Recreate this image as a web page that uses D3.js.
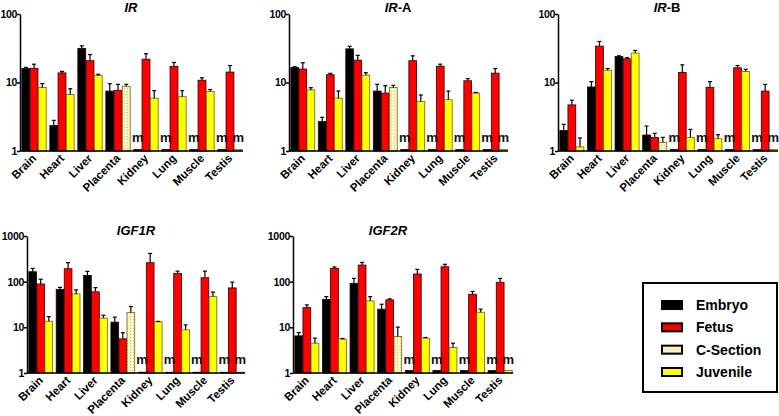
<!DOCTYPE html>
<html><head><meta charset="utf-8">
<script src="https://cdn.jsdelivr.net/npm/d3@7"></script>
<style>
body{margin:0;background:#fff;}
svg{display:block;font-family:"Liberation Sans",Arial,sans-serif;}
</style></head>
<body><svg id="chart" width="779" height="416"></svg>
<script>
// ---------------- DATA ----------------
const categories = ["Brain","Heart","Liver","Placenta","Kidney","Lung","Muscle","Testis"];
const seriesNames = ["Embryo","Fetus","C-Section","Juvenile"];
const panelTitles = ["IR","IR-A","IR-B","IGF1R","IGF2R"];
const missingLabel = "m";
// null = not measured ("m"); drawn as a stub at the panel's missing level
const missingLevel = [1.05, 1.05, 1.05, 1.04, 1.14];

const irEmbryo      = [16, 2.35, 31.5, 7.5, null, null, null, null];
const irEmbryoErr   = [0.6, 0.45, 2.8, 2.1, 0, 0, 0, 0];
const irFetus       = [16, 13.8, 20.8, 7.7, 21.9, 17.1, 10.8, 14.2];
const irFetusErr    = [2.5, 0.7, 4.8, 1.7, 4.4, 2.5, 0.9, 3.5];
const irThird       = [8.45, 6.7, 12.7, 8.8, 5.9, 6.2, 7.4, null];
const irThirdErr    = [1.2, 1.4, 0.5, 0.6, 1.7, 1.4, 0.5, 0];

const iraEmbryo     = [16.6, 2.7, 31, 7.5, null, null, null, null];
const iraEmbryoErr  = [0.4, 0.4, 2.8, 1.9, 0, 0, 0, 0];
const iraFetus      = [15.7, 13, 21.2, 7.0, 20.8, 17.3, 10.6, 13.7];
const iraFetusErr   = [3.7, 0.6, 3.7, 2.0, 3.7, 1.2, 0.8, 2.3];
const iraThird      = [7.8, 5.9, 12.8, 8.45, 5.27, 5.6, 7.0, null];
const iraThirdErr   = [0.6, 1.6, 1.1, 0.65, 1.3, 1.9, 0.15, 0];

const irbEmbryo     = [2.0, 8.6, 24, 1.71, null, null, null, null];
const irbEmbryoErr  = [0.45, 1.7, 0.5, 0.6, 0, 0, 0, 0];
const irbFetus      = [4.71, 34, 22.2, 1.58, 14, 8.5, 16.4, 7.5];
const irbFetusErr   = [0.8, 5.7, 0.8, 0.23, 4.1, 1.8, 1.3, 1.9];
const irbThird      = [1.15, 15.1, 26.9, 1.34, 1.58, 1.51, 14.5, null];
const irbThirdErr   = [0.4, 0.9, 2.5, 0.24, 0.49, 0.22, 1.1, 0];

const igf1rEmbryo    = [165, 68, 137, 13, null, null, null, null];
const igf1rEmbryoErr = [30, 7, 31, 3.7, 0, 0, 0, 0];
const igf1rFetus     = [89, 192, 60, 5.6, 260, 152, 122, 73];
const igf1rFetusErr  = [24, 68, 14, 2, 155, 18, 48, 25];
const igf1rThird     = [13.6, 54, 15.9, 21, 13.2, 8.8, 47, null];
const igf1rThirdErr  = [3.6, 12, 2.5, 7.5, 0.3, 2.5, 12, 0];

const igf2rEmbryo    = [6.5, 41, 92, 25, null, null, null, null];
const igf2rEmbryoErr = [1.2, 6, 26, 7, 0, 0, 0, 0];
const igf2rFetus     = [27, 196, 231, 40, 147, 212, 53, 97];
const igf2rFetusErr  = [4, 14, 33, 2, 39, 28, 8, 21];
const igf2rThird     = [4.5, 5.5, 38, 6.3, 5.8, 3.6, 21.4, null];
const igf2rThirdErr  = [1.3, 0.2, 9, 3.8, 0.2, 0.9, 3.6, 0];

const yTicksSmall = [1, 10, 100];
const yTicksLarge = [1, 10, 100, 1000];

// ---------------- LAYOUT / STYLE ----------------
const colors = {"Embryo":"#000000","Fetus":"#ff0000","C-Section":"url(#dots)","Juvenile":"#ffff00"};
const panels = [
  {title:panelTitles[0], em:irEmbryo, emE:irEmbryoErr, fe:irFetus, feE:irFetusErr, th:irThird, thE:irThirdErr, x0:20, x1:243, yTop:14, yBot:151, domain:[1,100], ticks:yTicksSmall, tx:131, ty:12},
  {title:panelTitles[1], em:iraEmbryo, emE:iraEmbryoErr, fe:iraFetus, feE:iraFetusErr, th:iraThird, thE:iraThirdErr, x0:289, x1:508, yTop:14, yBot:151, domain:[1,100], ticks:yTicksSmall, tx:398, ty:12},
  {title:panelTitles[2], em:irbEmbryo, emE:irbEmbryoErr, fe:irbFetus, feE:irbFetusErr, th:irbThird, thE:irbThirdErr, x0:558, x1:778, yTop:14, yBot:151, domain:[1,100], ticks:yTicksSmall, tx:667, ty:12},
  {title:panelTitles[3], em:igf1rEmbryo, emE:igf1rEmbryoErr, fe:igf1rFetus, feE:igf1rFetusErr, th:igf1rThird, thE:igf1rThirdErr, x0:27, x1:245, yTop:236, yBot:373, domain:[1,1000], ticks:yTicksLarge, tx:136, ty:235},
  {title:panelTitles[4], em:igf2rEmbryo, emE:igf2rEmbryoErr, fe:igf2rFetus, feE:igf2rFetusErr, th:igf2rThird, thE:igf2rThirdErr, x0:293, x1:513, yTop:236, yBot:373, domain:[1,1000], ticks:yTicksLarge, tx:388, ty:235}
];

const svg = d3.select("#chart");
const defs = svg.append("defs");
const pat = defs.append("pattern").attr("id","dots").attr("patternUnits","userSpaceOnUse")
  .attr("width",3).attr("height",3);
pat.append("rect").attr("width",3).attr("height",3).attr("fill","#fdf6c3");
pat.append("rect").attr("x",1).attr("y",1).attr("width",1).attr("height",1).attr("fill","#cfc58a");

panels.forEach((p, pi) => {
  const g = svg.append("g");
  const y = d3.scaleLog().domain(p.domain).range([p.yBot, p.yTop]);
  const x = d3.scaleBand().domain(categories).range([p.x0 + 1, p.x1]).paddingInner(0.13).paddingOuter(0.03);
  const xs = d3.scaleBand().domain([0,1,2]).range([0, x.bandwidth()]).paddingInner(0.04);

  const rows = [];
  categories.forEach((c, i) => {
    const third = c === "Placenta" ? "C-Section" : "Juvenile";
    [[p.em, p.emE, "Embryo"], [p.fe, p.feE, "Fetus"], [p.th, p.thE, third]].forEach((s, k) => {
      const v = s[0][i];
      rows.push({cat:c, k, series:s[2], value: v === null ? missingLevel[pi] : v, err: v === null ? 0 : s[1][i], missing: v === null});
    });
  });

  // bars
  g.selectAll("rect.bar").data(rows).join("rect").attr("class","bar")
    .attr("x", d => x(d.cat) + xs(d.k))
    .attr("width", xs.bandwidth())
    .attr("y", d => y(d.value))
    .attr("height", d => Math.max(0, p.yBot - y(d.value)))
    .attr("fill", d => colors[d.series])
    .attr("stroke", d => d.series === "Juvenile" || d.series === "C-Section" ? "#6b6418" : "#2a0000")
    .attr("stroke-width", 0.8);

  // error bars (upper only)
  const eb = rows.filter(d => !d.missing && d.err > 0);
  const ebg = g.selectAll("g.err").data(eb).join("g").attr("class","err");
  ebg.append("line")
    .attr("x1", d => x(d.cat) + xs(d.k) + xs.bandwidth()/2)
    .attr("x2", d => x(d.cat) + xs(d.k) + xs.bandwidth()/2)
    .attr("y1", d => y(d.value)).attr("y2", d => y(d.value + d.err))
    .attr("stroke","#000").attr("stroke-width",1.2);
  ebg.append("line")
    .attr("x1", d => x(d.cat) + xs(d.k) + xs.bandwidth()/2 - 2)
    .attr("x2", d => x(d.cat) + xs(d.k) + xs.bandwidth()/2 + 2)
    .attr("y1", d => y(d.value + d.err)).attr("y2", d => y(d.value + d.err))
    .attr("stroke","#000").attr("stroke-width",1.2);

  // "m" labels
  g.selectAll("text.m").data(rows.filter(d => d.missing)).join("text").attr("class","m")
    .attr("x", d => x(d.cat) + xs(d.k) + xs.bandwidth()/2)
    .attr("y", p.yBot - 9)
    .attr("text-anchor","middle")
    .attr("font-size", 13).attr("font-weight","bold").attr("fill","#111")
    .text(missingLabel);

  // y axis
  const ya = g.append("g").attr("transform", `translate(${p.x0},0)`)
    .call(d3.axisLeft(y).tickValues(p.ticks).tickFormat(d3.format("d")).tickSize(3).tickSizeOuter(0));
  ya.select(".domain").attr("stroke","#000").attr("stroke-width",1.5);
  ya.selectAll(".tick line").attr("stroke","#000").attr("stroke-width",1.5);
  ya.selectAll(".tick text").attr("font-size",10.5).attr("font-weight","bold").attr("fill","#000")
    .attr("font-family","'Liberation Sans',Arial,sans-serif").attr("x",-3).attr("letter-spacing",-0.3);

  // x axis
  const xa = g.append("g").attr("transform", `translate(0,${p.yBot})`)
    .call(d3.axisBottom(x).tickSize(0).tickSizeOuter(0));
  xa.select(".domain").attr("stroke","#000").attr("stroke-width",1.5).attr("d", `M${p.x0},0H${p.x1}`);
  xa.selectAll(".tick text")
    .attr("font-size",11.5).attr("font-weight","bold").attr("fill","#000")
    .attr("font-family","'Liberation Sans',Arial,sans-serif")
    .attr("text-anchor","end")
    .attr("y",0).attr("dy",0)
    .attr("transform","translate(3,8) rotate(-45)");

  // title
  const t = svg.append("text").attr("x", p.tx).attr("y", p.ty).attr("text-anchor","middle")
    .attr("font-size",13).attr("font-weight","bold");
  const parts = p.title.split("-");
  t.append("tspan").attr("font-style","italic").text(parts[0]);
  if (parts.length > 1) t.append("tspan").text("-" + parts[1]);
});

// legend
const lg = svg.append("g");
lg.append("rect").attr("x",643).attr("y",283).attr("width",134).attr("height",109)
  .attr("fill","#fff").attr("stroke","#000").attr("stroke-width",2);
const ly = d3.scalePoint().domain(seriesNames).range([305, 372]);
seriesNames.forEach(s => {
  lg.append("rect").attr("x",662).attr("y",ly(s)-4).attr("width",20).attr("height",8)
    .attr("fill",colors[s]).attr("stroke","#000").attr("stroke-width",2);
  lg.append("text").attr("x",696).attr("y",ly(s)+5).attr("font-size",14).attr("font-weight","bold")
    .attr("fill","#000").text(s);
});
</script></body></html>
